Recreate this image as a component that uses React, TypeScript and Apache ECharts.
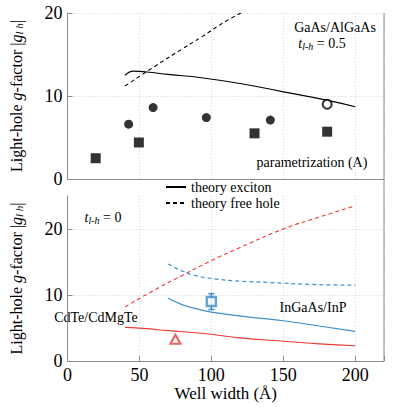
import React, { useEffect, useRef } from "react";
import * as echarts from "echarts";

// ---- Top panel: GaAs/AlGaAs (t_lh = 0.5) ----
const topExcitonX = [40, 46, 55, 70, 93, 120, 150, 180, 200];
const topExcitonY = [12.5, 13.0, 12.9, 12.6, 12.2, 11.5, 10.5, 9.5, 8.7];
const topFreeHoleX = [40, 60, 80, 93, 110, 125];
const topFreeHoleY = [11.2, 13.5, 15.7, 17.1, 19.0, 20.4];
const circlesX = [42.5, 59.5, 96.5, 141];
const circlesY = [6.6, 8.6, 7.4, 7.1];
const squaresX = [19.6, 49.6, 130, 180.5];
const squaresY = [2.5, 4.4, 5.5, 5.7];
const openCircleX = [180.5];
const openCircleY = [9.0];

// ---- Bottom panel (t_lh = 0) ----
const cdteFreeHoleX = [40, 60, 80, 100, 120, 150, 175, 200];
const cdteFreeHoleY = [8.2, 10.7, 13.0, 15.2, 17.2, 20.0, 21.8, 23.5];
const cdteExcitonX = [40, 55, 70, 93, 120, 150, 175, 200];
const cdteExcitonY = [5.1, 4.9, 4.6, 4.2, 3.5, 3.0, 2.6, 2.3];
const ingaasFreeHoleX = [70, 80, 90, 100, 120, 140, 170, 200];
const ingaasFreeHoleY = [14.7, 13.6, 12.9, 12.5, 12.1, 11.9, 11.6, 11.5];
const ingaasExcitonX = [70, 80, 90, 100, 125, 150, 175, 200];
const ingaasExcitonY = [9.5, 8.5, 7.9, 7.4, 6.7, 6.1, 5.3, 4.5];
const cdteExpX = [75];
const cdteExpY = [3.3];
const ingaasExpX = [100];
const ingaasExpY = [9.0];
const ingaasErrLow = [7.8];
const ingaasErrHigh = [10.2];

const xTicks = [0, 50, 100, 150, 200];

const RED = "#ee3b33";
const BLUE = "#3f8fcc";
const GRAY = "#8c8c8c";
const FONT = "Liberation Serif";

const zip = (xs: number[], ys: number[]) => xs.map((x, i) => [x, ys[i]]);

export default function App() {
  const ref = useRef<HTMLDivElement>(null);
  useEffect(() => {
    if (!ref.current) return;
    const chart = echarts.init(ref.current, undefined, { renderer: "svg" });
    const splitLine = { show: true, lineStyle: { color: "#d4d4d4", type: [1, 2] as any, width: 1 } };
    const nameRich = {
      n: { fontFamily: FONT, fontSize: 16, color: "#000" },
      i: { fontFamily: FONT, fontSize: 16, fontStyle: "italic", color: "#000" },
      s: { fontFamily: FONT, fontSize: 11, fontStyle: "italic", color: "#000", padding: [6, 0, 0, 0] },
    };
    const yName = "{n|Light-hole }{i|g}{n|-factor |}{i|g}{s|l h}{n||}";
    const lineCommon = { type: "line", symbol: "none", smooth: true, clip: true, z: 3 };
    const option: any = {
      animation: false,
      backgroundColor: "#fff",
      textStyle: { fontFamily: FONT },
      grid: [
        { left: 66, right: 23, top: 13, height: 166 },
        { left: 66, right: 23, top: 196, height: 165 },
      ],
      xAxis: [
        {
          gridIndex: 0, type: "value", min: 0, max: 220, interval: 50, position: "top",
          axisLine: { show: true, lineStyle: { color: GRAY, width: 1 } },
          axisTick: { show: false }, axisLabel: { show: false }, splitLine,
        },
        {
          gridIndex: 1, type: "value", min: 0, max: 220, interval: 50, position: "bottom",
          axisLine: { show: true, onZero: false, lineStyle: { color: GRAY, width: 1 } },
          axisTick: { show: true, inside: true, length: 5, lineStyle: { color: GRAY } },
          axisLabel: {
            fontFamily: FONT, fontSize: 18, color: "#000", margin: 5,
            formatter: (v: number) => (xTicks.includes(v) ? String(v) : ""),
          },
          splitLine,
          name: "Well width (Å)", nameLocation: "middle", nameGap: 22,
          nameTextStyle: { fontFamily: FONT, fontSize: 17, color: "#000" },
        },
      ],
      yAxis: [
        {
          gridIndex: 0, type: "value", min: 0, max: 20, interval: 10,
          axisLine: { show: true, lineStyle: { color: GRAY, width: 1 } },
          axisTick: { show: true, inside: true, length: 5, lineStyle: { color: GRAY } },
          axisLabel: { fontFamily: FONT, fontSize: 18, color: "#000", margin: 5 },
          splitLine,
          name: yName, nameLocation: "middle", nameGap: 43, nameRotate: 90,
          nameTextStyle: { rich: nameRich },
        },
        {
          gridIndex: 1, type: "value", min: 0, max: 25, interval: 10,
          axisLine: { show: true, onZero: false, lineStyle: { color: GRAY, width: 1 } },
          axisTick: { show: true, inside: true, length: 5, lineStyle: { color: GRAY } },
          axisLabel: { fontFamily: FONT, fontSize: 18, color: "#000", margin: 5, showMaxLabel: false },
          splitLine: { ...splitLine, showMaxLine: false },
          name: yName, nameLocation: "middle", nameGap: 43, nameRotate: 90,
          nameTextStyle: { rich: nameRich },
        },
      ],
      legend: {
        orient: "vertical", left: 160, top: 175, itemGap: 2, itemWidth: 20, itemHeight: 14,
        data: ["theory exciton", "theory free hole"],
        itemStyle: { color: "rgba(0,0,0,0)", borderColor: "rgba(0,0,0,0)", borderWidth: 0 },
        textStyle: { fontFamily: FONT, fontSize: 14, color: "#000" },
      },
      series: [
        { ...lineCommon, name: "theory exciton", xAxisIndex: 0, yAxisIndex: 0, data: zip(topExcitonX, topExcitonY), lineStyle: { color: "#000", width: 1.1 }, itemStyle: { color: "#000" } },
        { ...lineCommon, name: "theory free hole", xAxisIndex: 0, yAxisIndex: 0, data: zip(topFreeHoleX, topFreeHoleY), lineStyle: { color: "#000", width: 1.1, type: [4, 3] }, itemStyle: { color: "#000" } },
        { type: "scatter", name: "circles", xAxisIndex: 0, yAxisIndex: 0, data: zip(circlesX, circlesY), symbol: "circle", symbolSize: 9, itemStyle: { color: "#000" }, z: 4 },
        { type: "scatter", name: "squares", xAxisIndex: 0, yAxisIndex: 0, data: zip(squaresX, squaresY), symbol: "rect", symbolSize: 10, itemStyle: { color: "#000" }, z: 4 },
        { type: "scatter", name: "open", xAxisIndex: 0, yAxisIndex: 0, data: zip(openCircleX, openCircleY), symbol: "circle", symbolSize: 9, itemStyle: { color: "#fff", borderColor: "#000", borderWidth: 2 }, z: 5 },

        { ...lineCommon, name: "cdte free", xAxisIndex: 1, yAxisIndex: 1, data: zip(cdteFreeHoleX, cdteFreeHoleY), lineStyle: { color: RED, width: 1.1, type: [4, 3] } },
        { ...lineCommon, name: "cdte exc", xAxisIndex: 1, yAxisIndex: 1, data: zip(cdteExcitonX, cdteExcitonY), lineStyle: { color: RED, width: 1.1 } },
        { ...lineCommon, name: "ingaas free", xAxisIndex: 1, yAxisIndex: 1, data: zip(ingaasFreeHoleX, ingaasFreeHoleY), lineStyle: { color: BLUE, width: 1.2, type: [4, 3] } },
        { ...lineCommon, name: "ingaas exc", xAxisIndex: 1, yAxisIndex: 1, data: zip(ingaasExcitonX, ingaasExcitonY), lineStyle: { color: BLUE, width: 1.2 } },
        { type: "scatter", name: "cdte exp", xAxisIndex: 1, yAxisIndex: 1, data: zip(cdteExpX, cdteExpY), symbol: "triangle", symbolSize: [10, 9], itemStyle: { color: "#fff", borderColor: RED, borderWidth: 2 }, z: 5 },
        {
          type: "custom", name: "ingaas err", xAxisIndex: 1, yAxisIndex: 1, z: 4,
          data: ingaasExpX.map((x, i) => [x, ingaasErrLow[i], ingaasErrHigh[i]]),
          renderItem: (params: any, api: any) => {
            const lo = api.coord([api.value(0), api.value(1)]);
            const hi = api.coord([api.value(0), api.value(2)]);
            const w = 3;
            const st = { stroke: BLUE, lineWidth: 1.5 };
            return {
              type: "group",
              children: [
                { type: "line", shape: { x1: lo[0], y1: lo[1], x2: hi[0], y2: hi[1] }, style: st },
                { type: "line", shape: { x1: lo[0] - w, y1: lo[1], x2: lo[0] + w, y2: lo[1] }, style: st },
                { type: "line", shape: { x1: hi[0] - w, y1: hi[1], x2: hi[0] + w, y2: hi[1] }, style: st },
              ],
            };
          },
        },
        { type: "scatter", name: "ingaas exp", xAxisIndex: 1, yAxisIndex: 1, data: zip(ingaasExpX, ingaasExpY), symbol: "rect", symbolSize: 9, itemStyle: { color: "#fff", borderColor: BLUE, borderWidth: 2.5 }, z: 5 },
      ],
      graphic: [
        { type: "line", shape: { x1: 384, y1: 13, x2: 384, y2: 361 }, style: { stroke: GRAY, lineWidth: 1 }, z: 10 },
        { type: "text", x: 335, y: 27, style: { text: "GaAs/AlGaAs", fontFamily: FONT, fontSize: 14, fill: "#000", align: "center", verticalAlign: "middle" } },
        {
          type: "text", x: 322, y: 43,
          style: {
            text: "{i|t}{s|l-h}{n| = 0.5}", align: "center", verticalAlign: "middle",
            rich: {
              n: { fontFamily: FONT, fontSize: 14, fill: "#000" },
              i: { fontFamily: FONT, fontSize: 14, fontStyle: "italic", fill: "#000" },
              s: { fontFamily: FONT, fontSize: 10, fontStyle: "italic", fill: "#000", padding: [6, 0, 0, 0] },
            },
          },
        },
        { type: "text", x: 312, y: 162, style: { text: "parametrization (A)", fontFamily: FONT, fontSize: 14, fill: "#000", align: "center", verticalAlign: "middle" } },
        {
          type: "text", x: 103, y: 217,
          style: {
            text: "{i|t}{s|l-h}{n| = 0}", align: "center", verticalAlign: "middle",
            rich: {
              n: { fontFamily: FONT, fontSize: 14, fill: "#000" },
              i: { fontFamily: FONT, fontSize: 14, fontStyle: "italic", fill: "#000" },
              s: { fontFamily: FONT, fontSize: 10, fontStyle: "italic", fill: "#000", padding: [6, 0, 0, 0] },
            },
          },
        },
        { type: "text", x: 96, y: 317, style: { text: "CdTe/CdMgTe", fontFamily: FONT, fontSize: 14, fill: "#000", align: "center", verticalAlign: "middle" } },
        { type: "text", x: 313, y: 307, style: { text: "InGaAs/InP", fontFamily: FONT, fontSize: 14, fill: "#000", align: "center", verticalAlign: "middle" } },
      ],
    };
    chart.setOption(option);
    return () => chart.dispose();
  }, []);
  return <div ref={ref} style={{ position: "fixed", left: 0, top: 0, width: 407, height: 407 }} />;
}
